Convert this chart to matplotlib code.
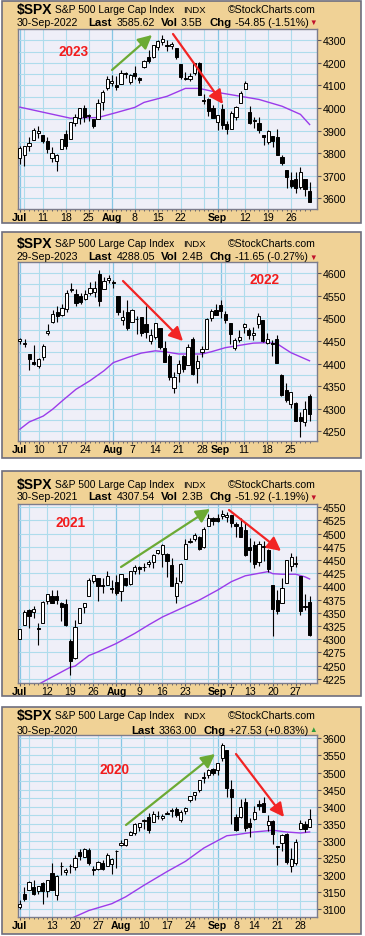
import matplotlib
matplotlib.use('Agg')
import matplotlib.pyplot as plt
from matplotlib.patches import Rectangle, FancyArrowPatch
import numpy as np
import pandas as pd

plt.rcParams['font.family'] = ['Liberation Sans', 'DejaVu Sans']

W, H = 365, 937

# ---------------- data ----------------
# panel 1 : Jul-Sep 2022
p1_range = ('2022-07-01', '2022-09-30')
p1_holidays = ['2022-07-04', '2022-09-05']
p1_open = [3781, 3793, 3831, 3859, 3888, 3881, 3852, 3780, 3764, 3818, 3884, 3861, 3935, 3956, 3998, 3966, 3953, 3951, 4026, 4087,
           4112, 4104, 4108, 4155, 4116, 4156, 4133, 4181, 4227, 4225, 4269, 4291, 4280, 4273, 4266, 4195, 4133, 4127, 4153, 4199, 4035, 4041, 4001,
           3937, 3995, 3931, 3909, 3960, 4023, 4084, 3983, 3941, 3932, 3880, 3850, 3875, 3871, 3782, 3727, 3683, 3686, 3652, 3687, 3634]
p1_high = [3830, 3832, 3871, 3911, 3919, 3881, 3873, 3829, 3796, 3864, 3902, 3940, 3974, 3999, 4012, 3975, 3953, 4040, 4079, 4140,
           4145, 4141, 4168, 4161, 4152, 4187, 4138, 4211, 4258, 4281, 4302, 4325, 4302, 4293, 4266, 4195, 4160, 4157, 4201, 4203, 4062, 4044, 4015,
           3970, 4018, 3943, 3988, 4011, 4077, 4119, 4010, 3962, 3959, 3880, 3901, 3876, 3907, 3791, 3727, 3716, 3718, 3737, 3687, 3671]
p1_low = [3752, 3742, 3809, 3859, 3869, 3847, 3802, 3759, 3722, 3817, 3819, 3861, 3922, 3928, 3939, 3944, 3911, 3951, 3992, 4079,
          4096, 4080, 4108, 4135, 4107, 4129, 4112, 4177, 4201, 4220, 4257, 4278, 4253, 4261, 4219, 4130, 4124, 4120, 4148, 4058, 4017, 3965, 3955,
          3904, 3906, 3887, 3906, 3945, 4023, 4084, 3928, 3912, 3888, 3837, 3839, 3828, 3790, 3749, 3648, 3644, 3623, 3641, 3610, 3584]
p1_close = [3825, 3831, 3845, 3903, 3899, 3854, 3819, 3802, 3790, 3863, 3831, 3937, 3960, 3999, 3962, 3967, 3921, 4024, 4072, 4130,
            4119, 4091, 4155, 4152, 4145, 4140, 4122, 4210, 4207, 4280, 4297, 4305, 4274, 4284, 4228, 4138, 4129, 4141, 4199, 4058, 4031, 3986, 3955,
            3967, 3924, 3908, 3980, 4006, 4067, 4110, 3933, 3946, 3901, 3873, 3900, 3856, 3790, 3758, 3693, 3655, 3647, 3719, 3640, 3586]
p1_ma_idx = [0, 11, 17, 21, 25, 27, 32, 36, 39, 43, 48, 52, 57, 61, 63]
p1_ma_val = [4004, 3955, 3958, 3980, 4003, 4025, 4052, 4087, 4087, 4069, 4052, 4038, 4008, 3972, 3927]
p1_tick_dates = ['2022-07-01', '2022-07-11', '2022-07-18', '2022-07-25', '2022-08-01', '2022-08-08',
                 '2022-08-15', '2022-08-22', '2022-09-01', '2022-09-12', '2022-09-19', '2022-09-26']
p1_tick_text = ['Jul', '11', '18', '25', 'Aug', '8', '15', '22', 'Sep', '12', '19', '26']
p1_yticks = [3600, 3700, 3800, 3900, 4000, 4100, 4200, 4300]

# panel 2 : Jul-Sep 2023
p2_range = ('2023-07-03', '2023-09-29')
p2_holidays = ['2023-07-04', '2023-09-04']
p2_open = [4450, 4442, 4422, 4404, 4394, 4415, 4467, 4492, 4514, 4508, 4521, 4563, 4554, 4550, 4543, 4555, 4558, 4598, 4565, 4584,
           4579, 4550, 4495, 4514, 4492, 4498, 4502, 4487, 4450, 4458, 4478, 4434, 4416, 4345, 4380, 4416, 4397, 4455, 4389, 4426, 4432, 4500, 4517,
           4530, 4510, 4490, 4434, 4451, 4480, 4473, 4463, 4487, 4497, 4445, 4445, 4453, 4374, 4342, 4310, 4313, 4282, 4270, 4328]
p2_high = [4457, 4454, 4422, 4440, 4412, 4443, 4488, 4517, 4528, 4532, 4562, 4578, 4565, 4555, 4563, 4580, 4582, 4607, 4590, 4595,
           4585, 4550, 4519, 4540, 4520, 4504, 4503, 4527, 4476, 4490, 4478, 4449, 4421, 4381, 4407, 4418, 4443, 4458, 4418, 4439, 4501, 4521, 4532,
           4541, 4515, 4490, 4457, 4473, 4490, 4479, 4480, 4511, 4497, 4467, 4452, 4462, 4376, 4357, 4338, 4314, 4292, 4317, 4333]
p2_low = [4442, 4436, 4385, 4397, 4389, 4408, 4463, 4489, 4492, 4504, 4514, 4557, 4527, 4531, 4541, 4552, 4547, 4528, 4564, 4577,
          4567, 4506, 4486, 4474, 4491, 4465, 4461, 4457, 4443, 4453, 4432, 4403, 4364, 4335, 4360, 4382, 4397, 4375, 4357, 4415, 4431, 4493, 4507,
          4501, 4489, 4442, 4430, 4448, 4467, 4454, 4452, 4478, 4447, 4442, 4416, 4402, 4329, 4316, 4302, 4273, 4238, 4262, 4274]
p2_close = [4455, 4446, 4411, 4399, 4409, 4439, 4472, 4510, 4505, 4523, 4555, 4565, 4534, 4536, 4554, 4567, 4567, 4537, 4582, 4589,
            4577, 4513, 4502, 4478, 4518, 4499, 4468, 4469, 4464, 4489, 4437, 4404, 4370, 4370, 4400, 4388, 4436, 4376, 4406, 4433, 4498, 4515, 4508,
            4516, 4497, 4465, 4451, 4458, 4487, 4462, 4467, 4505, 4450, 4453, 4444, 4402, 4330, 4320, 4337, 4274, 4274, 4300, 4288]
p2_ma_idx = [0, 2, 5, 7, 9, 12, 15, 18, 20, 23, 26, 29, 31, 34, 39, 41, 44, 47, 50, 53, 55, 58, 62]
p2_ma_val = [4255, 4271, 4284, 4299, 4317, 4343, 4362, 4384, 4402, 4413, 4423, 4428, 4426, 4421, 4421, 4426, 4435, 4440, 4445, 4446, 4444, 4424, 4406]
p2_tick_dates = ['2023-07-03', '2023-07-10', '2023-07-17', '2023-07-24', '2023-08-01', '2023-08-07', '2023-08-14',
                 '2023-08-21', '2023-08-28', '2023-09-01', '2023-09-11', '2023-09-18', '2023-09-25']
p2_tick_text = ['Jul', '10', '17', '24', 'Aug', '7', '14', '21', '28', 'Sep', '11', '18', '25']
p2_yticks = [4250, 4300, 4350, 4400, 4450, 4500, 4550, 4600]

# panel 3 : Jul-Sep 2021
p3_range = ('2021-07-01', '2021-09-30')
p3_holidays = ['2021-07-05', '2021-09-06']
p3_open = [4300, 4326, 4356, 4351, 4321, 4330, 4373, 4381, 4381, 4369, 4367, 4297, 4265, 4331, 4361, 4381, 4410, 4416, 4402, 4403, 4396,
           4409, 4392, 4415, 4404, 4429, 4437, 4436, 4442, 4446, 4464, 4462, 4462, 4440, 4382, 4410, 4451, 4484, 4490, 4493, 4474, 4514, 4529,
           4529, 4534, 4532, 4536, 4518, 4513, 4506, 4474, 4479, 4447, 4477, 4469, 4402, 4374, 4368, 4406, 4438, 4442, 4420, 4362, 4370]
p3_high = [4320, 4355, 4357, 4362, 4330, 4372, 4386, 4393, 4394, 4370, 4376, 4301, 4336, 4359, 4369, 4415, 4422, 4416, 4415, 4430, 4412,
           4422, 4423, 4416, 4430, 4440, 4439, 4445, 4449, 4461, 4468, 4480, 4463, 4454, 4418, 4444, 4489, 4492, 4501, 4495, 4513, 4537, 4532,
           4537, 4545, 4541, 4536, 4521, 4529, 4521, 4492, 4485, 4486, 4485, 4471, 4403, 4394, 4416, 4448, 4463, 4457, 4420, 4385, 4382]
p3_low = [4300, 4326, 4322, 4340, 4289, 4330, 4366, 4369, 4366, 4334, 4325, 4233, 4263, 4330, 4350, 4381, 4406, 4372, 4387, 4403, 4387,
          4384, 4373, 4400, 4403, 4424, 4424, 4429, 4436, 4435, 4461, 4437, 4418, 4400, 4368, 4407, 4451, 4482, 4485, 4468, 4472, 4514, 4516,
          4522, 4528, 4522, 4513, 4493, 4493, 4458, 4446, 4435, 4439, 4448, 4427, 4306, 4347, 4368, 4406, 4430, 4437, 4346, 4355, 4306]
p3_close = [4320, 4352, 4343, 4358, 4320, 4370, 4385, 4369, 4374, 4360, 4327, 4258, 4323, 4359, 4368, 4412, 4422, 4401, 4400, 4419, 4395,
            4387, 4423, 4402, 4429, 4437, 4432, 4436, 4447, 4460, 4468, 4479, 4448, 4400, 4406, 4442, 4480, 4486, 4497, 4470, 4509, 4529, 4523,
            4524, 4537, 4535, 4520, 4514, 4493, 4459, 4469, 4443, 4480, 4474, 4433, 4358, 4354, 4396, 4449, 4455, 4444, 4353, 4360, 4308]
p3_ma_idx = [0, 5, 8, 11, 12, 15, 17, 21, 25, 28, 31, 35, 39, 43, 46, 49, 54, 55, 57, 60, 62, 63]
p3_ma_val = [4195, 4219, 4233, 4247, 4249, 4269, 4276, 4292, 4311, 4327, 4342, 4358, 4374, 4393, 4409, 4420, 4428, 4424, 4423, 4423, 4418, 4414]
p3_tick_dates = ['2021-07-01', '2021-07-12', '2021-07-19', '2021-07-26', '2021-08-02', '2021-08-09', '2021-08-16',
                 '2021-08-23', '2021-09-01', '2021-09-07', '2021-09-13', '2021-09-20', '2021-09-27']
p3_tick_text = ['Jul', '12', '19', '26', 'Aug', '9', '16', '23', 'Sep', '7', '13', '20', '27']
p3_yticks = [4225, 4250, 4275, 4300, 4325, 4350, 4375, 4400, 4425, 4450, 4475, 4500, 4525, 4550]

# panel 4 : Jul-Sep 2020
p4_range = ('2020-07-01', '2020-09-30')
p4_holidays = ['2020-07-03', '2020-09-07']
p4_open = [3105, 3143, 3155, 3166, 3154, 3177, 3152, 3206, 3141, 3225, 3209, 3225, 3224, 3268, 3254, 3272, 3218, 3219, 3234, 3227, 3231, 3270,
           3288, 3289, 3318, 3323, 3340, 3357, 3370, 3355, 3372, 3368, 3380, 3388, 3392, 3360, 3386, 3419, 3435, 3449, 3486, 3494, 3509,
           3507, 3543, 3565, 3453, 3371, 3369, 3413, 3353, 3364, 3407, 3411, 3346, 3357, 3285, 3295, 3320, 3226, 3236, 3334, 3350, 3341]
p4_high = [3128, 3165, 3182, 3184, 3168, 3179, 3186, 3236, 3200, 3238, 3220, 3233, 3258, 3277, 3280, 3280, 3227, 3241, 3243, 3264, 3250, 3272,
           3302, 3306, 3330, 3351, 3352, 3363, 3382, 3387, 3387, 3378, 3387, 3395, 3399, 3390, 3399, 3432, 3444, 3479, 3501, 3509, 3514,
           3528, 3588, 3565, 3479, 3379, 3424, 3425, 3368, 3403, 3419, 3428, 3376, 3362, 3285, 3320, 3323, 3279, 3306, 3361, 3357, 3393]
p4_low = [3101, 3124, 3155, 3142, 3144, 3116, 3136, 3155, 3128, 3200, 3199, 3205, 3216, 3245, 3252, 3229, 3200, 3215, 3216, 3227, 3204, 3220,
          3284, 3286, 3317, 3318, 3328, 3335, 3322, 3355, 3363, 3362, 3379, 3370, 3369, 3354, 3379, 3413, 3421, 3444, 3468, 3484, 3494,
          3494, 3535, 3427, 3350, 3330, 3366, 3329, 3311, 3361, 3390, 3384, 3328, 3292, 3229, 3270, 3232, 3209, 3229, 3334, 3327, 3340]
p4_close = [3115, 3130, 3179, 3145, 3169, 3153, 3185, 3155, 3197, 3227, 3216, 3225, 3251, 3257, 3276, 3236, 3216, 3239, 3218, 3258, 3246, 3271,
            3295, 3306, 3327, 3349, 3351, 3360, 3333, 3380, 3373, 3373, 3381, 3390, 3375, 3385, 3397, 3431, 3443, 3478, 3484, 3508, 3500,
            3527, 3580, 3455, 3427, 3332, 3398, 3339, 3341, 3384, 3401, 3385, 3357, 3319, 3282, 3316, 3237, 3247, 3298, 3351, 3336, 3363]
p4_ma_idx = [10, 12, 15, 20, 23, 27, 32, 36, 40, 45, 47, 51, 55, 58, 61, 63]
p4_ma_val = [3065, 3078, 3096, 3116, 3136, 3170, 3210, 3240, 3279, 3315, 3318, 3326, 3331, 3326, 3323, 3326]
p4_tick_dates = ['2020-07-01', '2020-07-13', '2020-07-20', '2020-07-27', '2020-08-03', '2020-08-10', '2020-08-17',
                 '2020-08-24', '2020-09-01', '2020-09-08', '2020-09-14', '2020-09-21', '2020-09-28']
p4_tick_text = ['Jul', '13', '20', '27', 'Aug', '10', '17', '24', 'Sep', '8', '14', '21', '28']
p4_yticks = [3100, 3150, 3200, 3250, 3300, 3350, 3400, 3450, 3500, 3550, 3600]

# header texts
p1_head = ('30-Sep-2022', '3585.62', '3.5B', '-54.85 (-1.51%)')
p2_head = ('29-Sep-2023', '4288.05', '2.4B', '-11.65 (-0.27%)')
p3_head = ('30-Sep-2021', '4307.54', '2.3B', '-51.92 (-1.19%)')
p4_head = ('30-Sep-2020', '3363.00', None, '+27.53 (+0.83%)')

# ---------------- layout (pixels, from top-left) ----------------
panels = [
    dict(o=p1_open, h=p1_high, l=p1_low, c=p1_close, rng=p1_range, hol=p1_holidays,
         ma_i=p1_ma_idx, ma_v=p1_ma_val, td=p1_tick_dates, tt=p1_tick_text, yt=p1_yticks, ygrid=50,
         head=p1_head, box=(2, 2, 361, 224), plot=(18, 30, 317, 210), ylim=(3553, 4350), rows=(10, 22.5),
         year='2023', year_xy=(74, 52),
         arrows=[('g', (112, 71), (152, 36)), ('r', (173, 35), (223, 105))]),
    dict(o=p2_open, h=p2_high, l=p2_low, c=p2_close, rng=p2_range, hol=p2_holidays,
         ma_i=p2_ma_idx, ma_v=p2_ma_val, td=p2_tick_dates, tt=p2_tick_text, yt=p2_yticks, ygrid=25,
         head=p2_head, box=(2, 233, 361, 459), plot=(18, 263, 317, 442), ylim=(4229, 4624), rows=(244, 257.5),
         year='2022', year_xy=(264, 280.5),
         arrows=[('r', (123, 282), (183, 342))]),
    dict(o=p3_open, h=p3_high, l=p3_low, c=p3_close, rng=p3_range, hol=p3_holidays,
         ma_i=p3_ma_idx, ma_v=p3_ma_val, td=p3_tick_dates, tt=p3_tick_text, yt=p3_yticks, ygrid=25,
         head=p3_head, box=(2, 472, 361, 697), plot=(18, 505, 317, 684), ylim=(4217, 4556), rows=(485, 497.5),
         year='2021', year_xy=(71, 523),
         arrows=[('g', (121, 568), (210, 510)), ('r', (229, 511), (281, 552))]),
    dict(o=p4_open, h=p4_high, l=p4_low, c=p4_close, rng=p4_range, hol=p4_holidays,
         ma_i=p4_ma_idx, ma_v=p4_ma_val, td=p4_tick_dates, tt=p4_tick_text, yt=p4_yticks, ygrid=25,
         head=p4_head, box=(2, 708, 361, 935), plot=(18, 736, 317, 918), ylim=(3077, 3610), rows=(716.5, 731),
         year='2020', year_xy=(115, 769.5),
         arrows=[('g', (126, 826), (215, 755)), ('r', (236, 755), (284, 818))]),
]

TAN = '#F0D296'
BORDER = '#6E6E7E'
PLOTBG = '#EFEFF8'
GRID = '#AEDCEC'
GRID_M = '#86C6E4'
MA_COL = '#9B3BEA'
ARROW = {'g': '#6CAA34', 'r': '#F22424'}

fig = plt.figure(figsize=(W / 100, H / 100), dpi=100)
fig.patch.set_facecolor('white')


def fx(x):
    return x / W


def fy(y):
    return 1 - y / H


def ftext(x, y, s, **kw):
    kw.setdefault('fontsize', 7.7)
    kw.setdefault('va', 'center')
    kw.setdefault('ha', 'left')
    fig.text(fx(x), fy(y), s, **kw)


for p in panels:
    # tan panel background
    bx0, by0, bx1, by1 = p['box']
    fig.add_artist(Rectangle((fx(bx0), fy(by1)), (bx1 - bx0) / W, (by1 - by0) / H,
                             transform=fig.transFigure, facecolor=TAN, edgecolor=BORDER, lw=1.2, zorder=-5))

    # header
    r1, r2 = p['rows']
    date, last, vol, chg = p['head']
    ftext(16.5, r1, '$SPX', fontsize=10, fontweight='bold')
    ftext(55, r1, 'S&P 500 Large Cap Index', fontsize=7.35)
    ftext(183, r1 + 0.3, 'INDX', fontsize=6.8)
    ftext(228, r1, '\u00a9StockCharts.com', fontsize=7.6)
    ftext(16.5, r2, date)
    if vol is not None:
        ftext(88.5, r2, 'Last', fontsize=8.2, fontweight='bold')
        ftext(116.5, r2, last)
        ftext(161, r2, 'Vol', fontsize=8.2, fontweight='bold')
        ftext(181, r2, vol)
        ftext(210, r2, 'Chg', fontsize=8.2, fontweight='bold')
        ftext(235, r2, chg)
        ftext(309.5, r2 + 0.5, '\u25bc', fontsize=5.5, color='#C0102A')
    else:
        ftext(131.5, r2, 'Last', fontsize=8.2, fontweight='bold')
        ftext(158.5, r2, last)
        ftext(204, r2, 'Chg', fontsize=8.2, fontweight='bold')
        ftext(229, r2, chg)
        ftext(309.5, r2 - 0.5, '\u25b2', fontsize=5.5, color='#2E9A3A')

    # plot area
    x0, y0, x1, y1 = p['plot']
    ax = fig.add_axes([fx(x0), fy(y1), (x1 - x0) / W, (y1 - y0) / H])
    ax.set_facecolor(PLOTBG)

    dates = pd.bdate_range(*p['rng']).drop(pd.to_datetime(p['hol']))
    n = len(dates)
    x = np.arange(n)
    o = np.array(p['o'])
    hi = np.array(p['h'])
    lo = np.array(p['l'])
    c = np.array(p['c'])

    ax.set_xlim(-0.4, n + 0.6)
    ax.set_ylim(*p['ylim'])

    # grid: weekly / monthly verticals, horizontal lines
    for i in range(n):
        new_month = i == 0 or dates[i].month != dates[i - 1].month
        new_week = i == 0 or dates[i].isocalendar()[1] != dates[i - 1].isocalendar()[1]
        if new_month:
            ax.axvline(i, color=GRID_M, lw=0.9, zorder=1)
        elif new_week:
            ax.axvline(i, color=GRID, lw=0.8, zorder=1)
    g0 = np.ceil(p['ylim'][0] / p['ygrid']) * p['ygrid']
    for gy in np.arange(g0, p['ylim'][1], p['ygrid']):
        ax.axhline(gy, color=GRID, lw=0.8, zorder=1)

    # moving average
    ax.plot(p['ma_i'], p['ma_v'], color=MA_COL, lw=1.0, zorder=2)

    # candlesticks
    up = c >= o
    ax.vlines(x, lo, hi, color='black', lw=0.8, zorder=3)
    body_lo = np.minimum(o, c)
    body_h = np.maximum(np.abs(c - o), (p['ylim'][1] - p['ylim'][0]) * 0.002)
    ax.bar(x, body_h, bottom=body_lo, width=0.68,
           color=np.where(up, 'white', 'black'), edgecolor='black', linewidth=0.7, zorder=4)

    # axes styling
    for s in ax.spines.values():
        s.set_color('#7C7C8C')
        s.set_linewidth(1.0)
    ax.yaxis.tick_right()
    ax.set_yticks(p['yt'])
    ax.set_yticklabels([str(v) for v in p['yt']])
    ax.tick_params(axis='y', length=3, width=0.8, color='#555560', pad=1, labelsize=7.7)
    tick_idx = [dates.get_loc(pd.Timestamp(d)) for d in p['td']]
    ax.set_xticks(tick_idx)
    ax.set_xticklabels(p['tt'])
    for lab in ax.get_xticklabels():
        if lab.get_text() in ('Jul', 'Aug', 'Sep'):
            lab.set_fontweight('bold')
            lab.set_fontsize(8.2)
    ax.set_xticks(x, minor=True)
    ax.tick_params(axis='x', which='major', length=2, width=0.8, color='#555560', pad=0.5, labelsize=7.6)
    ax.tick_params(axis='x', which='minor', length=1.5, width=0.6, color='#555560')

    # annotations
    yx, yy = p['year_xy']
    ftext(yx, yy, p['year'], ha='center', fontsize=9.8, fontweight='bold', color='#F21C1C')
    for col, (ax0, ay0), (ax1, ay1) in p['arrows']:
        arr = FancyArrowPatch((fx(ax0), fy(ay0)), (fx(ax1), fy(ay1)), transform=fig.transFigure,
                              arrowstyle='-|>,head_length=0.75,head_width=0.38', mutation_scale=11,
                              color=ARROW[col], lw=1.6, shrinkA=0, shrinkB=0, zorder=10)
        fig.add_artist(arr)

fig.savefig('out.png', dpi=100)
